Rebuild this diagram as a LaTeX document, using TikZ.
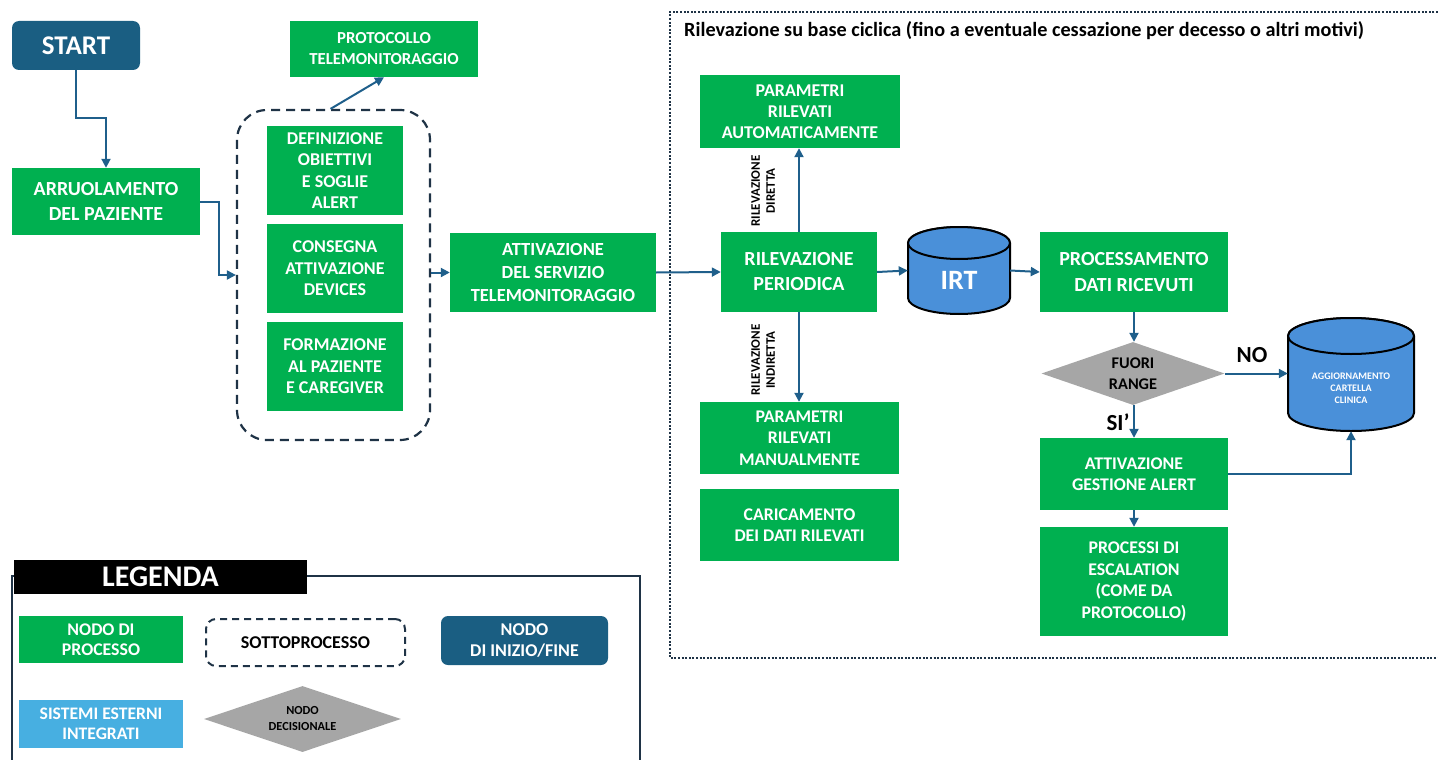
\documentclass[tikz,border=0pt]{standalone}
\usepackage{fontspec}
\setmainfont{Carlito}
\usetikzlibrary{shapes.geometric,arrows.meta,calc}
\definecolor{pgreen}{HTML}{00B050}
\definecolor{sblue}{HTML}{1A5E82}
\definecolor{cblue}{HTML}{4A90D9}
\definecolor{lblue}{HTML}{47AFE1}
\definecolor{arrc}{HTML}{1F5F8B}
\definecolor{navy}{HTML}{1F3346}
\definecolor{dgray}{HTML}{A6A6A6}
\newcommand{\fs}[2]{\bfseries\fontsize{#1}{#2}\selectfont}
\begin{document}
\begin{tikzpicture}[x=1pt,y=-1pt,
  proc/.style={rectangle, fill=pgreen, text=white, align=center, inner sep=0pt, font=\fs{20}{25}},
  procs/.style={proc, font=\fs{17.8}{21.5}},
  term/.style={rectangle, rounded corners=7pt, fill=sblue, text=white, align=center, inner sep=0pt},
  subbox/.style={rectangle, rounded corners=30pt, draw=navy, line width=2.2pt, dash pattern=on 9pt off 6pt, inner sep=0pt},
  decis/.style={diamond, fill=dgray, text=black, align=center, inner sep=0pt, shape aspect=2.9},
  cylbox/.style={rectangle, inner sep=0pt},
  cyltext/.style={text=white, align=center, inner sep=0pt},
  cyl/.style={fill=cblue, draw=black, line width=2pt},
  conn/.style={draw=arrc, line width=2pt, -{Triangle[length=9pt,width=9pt]}},
  lbl/.style={font=\fs{23}{24}, text=black, inner sep=0pt},
  rot/.style={font=\fs{13}{15}, text=black, align=center, rotate=90, inner sep=0pt},
]
\useasboundingbox (0,0) rectangle (1438,760);

% ---- cyclic frame
\draw[navy, line width=2pt, dash pattern=on 2pt off 1.6pt] (1438,12) -- (670,12) -- (670,658) -- (1438,658);
\node[anchor=west, font=\fs{20.2}{24}, text=black, inner sep=0pt] (title) at (684,31) {Rilevazione su base ciclica (fino a eventuale cessazione per decesso o altri motivi)};

% ---- left part
\node[term, minimum width=128pt, minimum height=49pt, font=\fs{27}{30}] (start) at (76,45.5) {START};
\node[proc, minimum width=188pt, minimum height=67pt] (arr) at (106,201.5) {ARRUOLAMENTO\\DEL PAZIENTE};
\node[procs, font=\fs{16.8}{21}, minimum width=188pt, minimum height=56pt] (prot) at (384,49) {PROTOCOLLO\\TELEMONITORAGGIO};
\node[subbox, minimum width=193pt, minimum height=330pt] (sub) at (333.5,275) {};
\node[procs, font=\fs{18}{21.5}, minimum width=136pt, minimum height=89pt] (def) at (335,170.5) {DEFINIZIONE\\OBIETTIVI\\E SOGLIE\\ALERT};
\node[procs, font=\fs{18}{21.5}, minimum width=136pt, minimum height=89pt] (cons) at (335,268.5) {CONSEGNA\\ATTIVAZIONE\\DEVICES};
\node[procs, font=\fs{18}{21.5}, minimum width=136pt, minimum height=89pt] (form) at (335,366.5) {FORMAZIONE\\AL PAZIENTE\\E CAREGIVER};
\node[proc, font=\fs{18.5}{23}, minimum width=206pt, minimum height=79pt] (att) at (553,272.5) {ATTIVAZIONE\\DEL SERVIZIO\\TELEMONITORAGGIO};

% ---- cyclic part
\node[procs, font=\fs{18}{21}, minimum width=200pt, minimum height=73pt] (pauto) at (800,111.5) {PARAMETRI\\RILEVATI\\AUTOMATICAMENTE};
\node[proc, minimum width=156pt, minimum height=80pt] (rp) at (799,272) {RILEVAZIONE\\PERIODICA};
\node[procs, minimum width=199pt, minimum height=72pt] (pman) at (799.5,438) {PARAMETRI\\RILEVATI\\MANUALMENTE};
\node[procs, minimum width=199pt, minimum height=72pt] (car) at (799.5,525) {CARICAMENTO\\DEI DATI RILEVATI};
\node[rot] (ldir) at (763,191) {RILEVAZIONE\\DIRETTA};
\node[rot] (lind) at (763,360) {RILEVAZIONE\\INDIRETTA};

% IRT cylinder
\draw[cyl] (908,243) -- (908,298) arc[start angle=180, end angle=0, x radius=51, y radius=16] -- (1010,243) arc[start angle=0, end angle=-180, x radius=51, y radius=16] -- cycle;
\draw[cyl] (959,243) ellipse[x radius=51, y radius=16];
\node[cylbox, minimum width=102pt, minimum height=87pt] (irt) at (959,270.5) {};
\node[cyltext, font=\fs{28}{30}] (irtt) at (959,280) {IRT};

\node[proc, font=\fs{20}{26}, minimum width=188pt, minimum height=80pt] (procd) at (1134,272) {PROCESSAMENTO\\DATI RICEVUTI};
\node[decis, font=\fs{16.3}{21}, minimum width=183pt, minimum height=63pt] (fuori) at (1133,373.5) {FUORI\\RANGE};

% AGG cylinder
\draw[cyl] (1288,336) -- (1288,413) arc[start angle=180, end angle=0, x radius=63, y radius=18] -- (1414,336) arc[start angle=0, end angle=-180, x radius=63, y radius=18] -- cycle;
\draw[cyl] (1351,336) ellipse[x radius=63, y radius=18];
\node[cylbox, minimum width=126pt, minimum height=113pt] (agg) at (1351,374.5) {};
\node[cyltext, font=\fs{10}{12}] (aggt) at (1351,388) {AGGIORNAMENTO\\CARTELLA\\CLINICA};

\node[procs, minimum width=188pt, minimum height=72pt] (gest) at (1134,474) {ATTIVAZIONE\\GESTIONE ALERT};
\node[procs, minimum width=188pt, minimum height=109pt] (esc) at (1134,581.5) {PROCESSI DI\\ESCALATION\\(COME DA\\PROTOCOLLO)};
\node[lbl] (lno) at (1252,355) {NO};
\node[lbl] (lsi) at (1118,422) {SI’};

% ---- connectors
\draw[conn] (start.south) -- ++(0,48) -| (arr.north);
\draw[conn] (arr.east) -- ++(19,0) |- (sub.west);
\draw[conn] (sub.north) ++(-3,0) -- (prot.south);
\draw[conn] (sub.east |- att.west) -- (att.west);
\draw[conn] (att.east) -- (rp.west);
\draw[conn] (rp.north) -- (rp.north |- pauto.south);
\draw[conn] (rp.south) -- (rp.south |- pman.north);
\draw[conn] (rp.east) -- (irt.west);
\draw[conn] (irt.east) -- (procd.west);
\draw[conn] (procd.south) -- (procd.south |- fuori.north);
\draw[conn] (fuori.east) -- (agg.west |- fuori.east);
\draw[conn] (fuori.south -| procd.south) -- (gest.north);
\draw[conn] (gest.east) -| (agg.south);
\draw[conn] (gest.south) -- (esc.north);

% ---- legend
\draw[navy, line width=2pt] (12,760) -- (12,576) -- (640,576) -- (640,760);
\node[rectangle, fill=black, text=white, inner sep=0pt, minimum width=293pt, minimum height=34pt, font=\fs{30}{32}] (leg) at (160.5,577) {LEGENDA};
\node[proc, font=\fs{17.8}{20}, minimum width=164pt, minimum height=47pt] (lproc) at (101,639.5) {NODO DI\\PROCESSO};
\node[subbox, rounded corners=10pt, line width=2pt, dash pattern=on 7pt off 5pt, minimum width=199pt, minimum height=47pt, font=\fs{18}{20}, text=black] (lsub) at (305.5,642.5) {SOTTOPROCESSO};
\node[term, font=\fs{18}{21}, minimum width=167pt, minimum height=49pt] (lterm) at (524.5,640.5) {NODO\\DI INIZIO/FINE};
\node[rectangle, fill=lblue, text=white, align=center, inner sep=0pt, font=\fs{17.6}{20}, minimum width=164pt, minimum height=48pt] (lext) at (101,724) {SISTEMI ESTERNI\\INTEGRATI};
\node[decis, font=\fs{12.3}{16}, minimum width=197pt, minimum height=66pt, shape aspect=3] (ldec) at (302.5,719) {NODO\\DECISIONALE};
\end{tikzpicture}
\end{document}
